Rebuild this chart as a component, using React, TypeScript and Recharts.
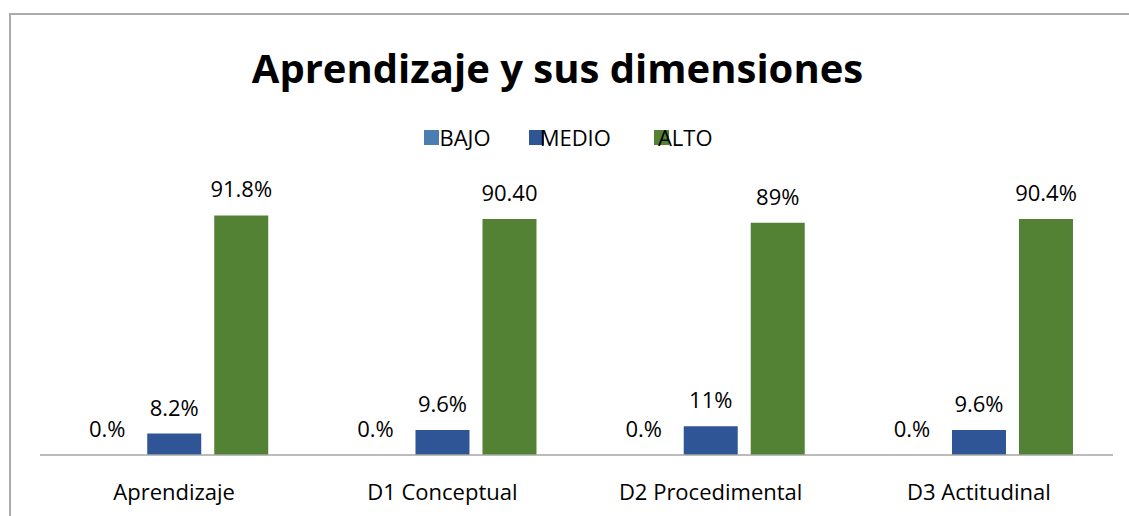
import { BarChart, Bar, XAxis, YAxis, Legend, LabelList } from "recharts";

const categories = ["Aprendizaje", "D1 Conceptual", "D2 Procedimental", "D3 Actitudinal"];
const bajo = [0, 0, 0, 0];
const medio = [8.2, 9.6, 11, 9.6];
const alto = [91.8, 90.4, 89, 90.4];
const bajoLabels = ["0.%", "0.%", "0.%", "0.%"];
const medioLabels = ["8.2%", "9.6%", "11%", "9.6%"];
const altoLabels = ["91.8%", "90.40", "89%", "90.4%"];

const series = [
  { key: "bajo", name: "BAJO", color: "#4a7eb3" },
  { key: "medio", name: "MEDIO", color: "#2f5597" },
  { key: "alto", name: "ALTO", color: "#548235" },
];

const data = categories.map((name, i) => ({
  name,
  bajo: bajo[i],
  medio: medio[i],
  alto: alto[i],
  bajoLabel: bajoLabels[i],
  medioLabel: medioLabels[i],
  altoLabel: altoLabels[i],
}));

const FONT = "'Open Sans', sans-serif";
// excel draws the legend text a bit over the swatch
const textShift = [0, -4, -11];
const itemGap = [38, 43, 0];

function LegendBox() {
  return (
    <div style={{ display: "flex", justifyContent: "center", paddingLeft: 8 }}>
      {series.map((s, i) => (
        <div key={s.key} style={{ display: "flex", alignItems: "center", marginRight: itemGap[i] }}>
          <span style={{ width: 15, height: 15, background: s.color, display: "inline-block" }} />
          <span style={{ marginLeft: textShift[i], fontSize: 22, fontFamily: FONT, color: "#000", lineHeight: "24px" }}>
            {s.name}
          </span>
        </div>
      ))}
    </div>
  );
}

export default function App() {
  return (
    <div style={{ position: "absolute", left: 0, top: 0, width: 1129, height: 516, overflow: "hidden", background: "#fff" }}>
      <div
        style={{
          position: "absolute",
          left: 9,
          top: 13,
          width: 1300,
          height: 700,
          borderTop: "2px solid #ababab",
          borderLeft: "2px solid #ababab",
        }}
      />
      <div
        style={{
          position: "absolute",
          left: 0,
          width: 1115,
          top: 40,
          textAlign: "center",
          fontFamily: FONT,
          fontWeight: 700,
          fontSize: 40,
          color: "#000",
        }}
      >
        Aprendizaje y sus dimensiones
      </div>
      <BarChart
        width={1129}
        height={516}
        data={data}
        margin={{ top: 194, right: 16, left: 40, bottom: 1 }}
        barGap={13}
        barCategoryGap="15%"
        style={{ position: "absolute", left: 0, top: 0 }}
      >
        <XAxis
          dataKey="name"
          height={60}
          tickLine={false}
          tickSize={0}
          tickMargin={29}
          axisLine={{ stroke: "#a6a6a6", strokeWidth: 1.5 }}
          tick={{ fill: "#000", fontSize: 22, fontFamily: FONT }}
        />
        <YAxis hide domain={[0, 100]} />
        <Legend verticalAlign="middle" wrapperStyle={{ top: 125, left: 0, width: 1129 }} content={() => <LegendBox />} />
        {series.map((s) => (
          <Bar
            key={s.key}
            dataKey={s.key}
            name={s.name}
            fill={s.color}
            minPointSize={0.01}
            isAnimationActive={false}
          >
            <LabelList
              dataKey={`${s.key}Label`}
              position="top"
              offset={18}
              style={{ fill: "#000", fontSize: 22, fontFamily: FONT }}
            />
          </Bar>
        ))}
      </BarChart>
    </div>
  );
}
